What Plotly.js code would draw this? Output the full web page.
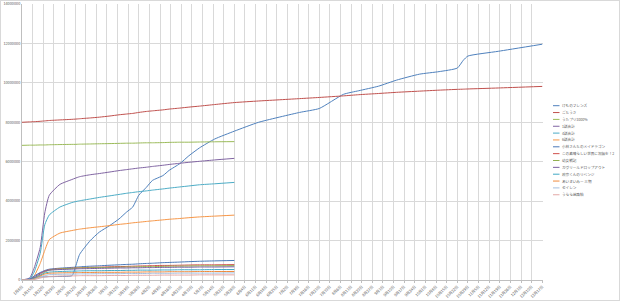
<!DOCTYPE html>
<html>
<head>
<meta charset="utf-8">
<script src="https://cdn.plot.ly/plotly-3.0.1.min.js"></script>
<style>
html,body{margin:0;padding:0;background:#fff;}
#wrap{position:relative;width:620px;height:301px;}
#chart{width:620px;height:301px;}
#frame{position:absolute;left:0;top:0;width:618px;height:299px;border:1px solid #d9d9d9;pointer-events:none;}
</style>
</head>
<body>
<div id="wrap"><div id="chart"></div><div id="frame"></div></div>
<script>
// values in millions of views
const UNIT = 1e6;
const dates = ["2017-01-08","2017-01-13","2017-01-16","2017-01-20","2017-01-23","2017-01-26","2017-02-02","2017-02-10","2017-02-12","2017-02-15","2017-02-22","2017-02-28","2017-03-07","2017-03-13","2017-03-18","2017-03-22","2017-03-26","2017-03-31","2017-04-04","2017-04-11","2017-04-15","2017-04-22","2017-04-28","2017-05-05","2017-05-15","2017-05-28","2017-06-13","2017-07-10","2017-07-23","2017-08-08","2017-08-18","2017-08-31","2017-09-12","2017-09-27","2017-10-10","2017-10-22","2017-10-26","2017-10-29","2017-11-18","2017-12-17"];

const seriesNames = ["けものフレンズ","ごちうさ","うたプリ1000%","1話合計","4話合計","6話合計","小林さんちのメイドラゴン","この素晴らしい世界に祝福を！2","幼女戦記","ガヴリールドロップアウト","政宗くんのリベンジ","あいまいみー 三期","セイレン","うらら迷路帖"];
const seriesColors = ["#4F81BD","#C0504D","#9BBB59","#8064A2","#4BACC6","#F79646","#4A78B8","#D0504C","#92B050","#7A5FA0","#40A8C4","#F08A3C","#A5BFDF","#E3A8A6"];

const kemono   = [0,0.05,0.12,0.15,0.16,0.17,0.18,0.22,0.6,1.3,2.0,2.43,2.77,3.1,3.45,3.7,4.3,4.7,5.05,5.3,5.56,5.9,6.3,6.7,7.15,7.55,8.0,8.5,8.7,9.42,9.6,9.83,10.14,10.44,10.57,10.75,11.15,11.36,11.6,11.96];
const gochiusa = [8.0,8.02,8.03,8.05,8.07,8.09,8.12,8.15,8.16,8.18,8.22,8.26,8.32,8.38,8.42,8.45,8.5,8.55,8.58,8.63,8.67,8.72,8.77,8.82,8.9,9.0,9.08,9.2,9.26,9.34,9.4,9.46,9.52,9.58,9.63,9.67,9.68,9.69,9.74,9.82];
const utapri   = [6.83,6.84,6.84,6.85,6.85,6.86,6.87,6.88,6.88,6.89,6.9,6.91,6.92,6.93,6.94,6.94,6.95,6.96,6.96,6.97,6.98,6.99,6.99,7.0,7.01,7.02];
const ep1Total = [0,0.1,0.6,1.65,3.4,4.3,4.85,5.1,5.16,5.24,5.34,5.4,5.48,5.55,5.6,5.64,5.68,5.72,5.76,5.82,5.86,5.92,5.97,6.02,6.09,6.17];
const ep4Total = [0,0.05,0.4,1.35,2.8,3.3,3.7,3.93,3.97,4.02,4.11,4.19,4.27,4.34,4.4,4.44,4.48,4.52,4.56,4.62,4.66,4.72,4.77,4.83,4.88,4.95];
const ep6Total = [0,0,0.2,0.84,1.5,2.05,2.38,2.51,2.54,2.58,2.65,2.7,2.76,2.82,2.86,2.9,2.93,2.97,3.0,3.05,3.08,3.12,3.16,3.2,3.24,3.29];
const kobayashi = [0,0.05,0.2,0.38,0.48,0.55,0.6,0.64,0.65,0.67,0.7,0.72,0.75,0.77,0.79,0.8,0.82,0.84,0.85,0.88,0.89,0.91,0.93,0.95,0.97,0.99];
const konosuba  = [0,0,0.1,0.3,0.45,0.52,0.57,0.6,0.61,0.62,0.64,0.65,0.67,0.68,0.69,0.7,0.71,0.72,0.73,0.74,0.74,0.75,0.76,0.77,0.77,0.78];
const youjo     = [0,0,0.05,0.2,0.4,0.5,0.56,0.59,0.6,0.61,0.62,0.63,0.64,0.65,0.66,0.66,0.67,0.68,0.68,0.69,0.7,0.7,0.71,0.72,0.72,0.73];
const gabriel   = [0,0.02,0.15,0.35,0.45,0.5,0.53,0.55,0.56,0.57,0.58,0.59,0.6,0.61,0.61,0.62,0.62,0.63,0.63,0.64,0.64,0.65,0.65,0.66,0.66,0.67];
const masamune  = [0,0,0.1,0.25,0.35,0.4,0.43,0.45,0.45,0.46,0.47,0.47,0.48,0.48,0.49,0.49,0.5,0.5,0.5,0.51,0.51,0.52,0.52,0.52,0.53,0.53];
const aimaimi   = [0,0,0.05,0.2,0.3,0.34,0.36,0.37,0.37,0.38,0.38,0.39,0.39,0.39,0.4,0.4,0.4,0.41,0.41,0.41,0.42,0.42,0.42,0.43,0.43,0.43];
const seiren    = [0,0,0.03,0.15,0.22,0.27,0.29,0.3,0.3,0.31,0.31,0.32,0.32,0.32,0.33,0.33,0.33,0.33,0.34,0.34,0.34,0.35,0.35,0.35,0.35,0.36];
const urara     = [0,0,0.02,0.1,0.15,0.18,0.2,0.21,0.21,0.22,0.22,0.22,0.23,0.23,0.23,0.24,0.24,0.24,0.24,0.25,0.25,0.25,0.25,0.26,0.26,0.26];

const seriesValues = [kemono,gochiusa,utapri,ep1Total,ep4Total,ep6Total,kobayashi,konosuba,youjo,gabriel,masamune,aimaimi,seiren,urara];

const traces = seriesValues.map((vals,i)=>({
  type:'scatter', mode:'lines',
  x: dates.slice(0, vals.length),
  y: vals.map(v=>v*UNIT),
  name: seriesNames[i],
  line:{color:seriesColors[i], width:1, shape:'spline', smoothing:0.5},
  showlegend:false,
  hoverinfo:'skip'
}));

// plot area geometry (pixels)
const W=620,H=301, L=22, R=77, T=4, B=21;
const pw=W-L-R, ph=H-T-B;
const px2x = p => (p-L)/pw;
const py2y = p => (H-B-p)/ph;

const annotations=[], shapes=[];
seriesNames.forEach((nm,i)=>{
  const py = 105.7 + i*6.85;
  shapes.push({type:'line', xref:'paper', yref:'paper', x0:px2x(553), x1:px2x(559.5), y0:py2y(py), y1:py2y(py), line:{color:seriesColors[i], width:1}});
  annotations.push({xref:'paper', yref:'paper', x:px2x(560.5), y:py2y(py), xanchor:'left', yanchor:'middle', showarrow:false, text:nm, borderpad:0, font:{size:3.6, color:'#595959', family:'Noto Sans CJK JP, sans-serif'}});
});

const layout = {
  width:W, height:H,
  margin:{l:L, r:R, t:T, b:B, pad:0},
  paper_bgcolor:'#fff', plot_bgcolor:'#fff',
  font:{family:'Noto Sans CJK JP, Liberation Sans, sans-serif', color:'#595959', size:4},
  xaxis:{
    type:'date', range:['2017-01-08','2017-12-17 12:00'],
    tick0:'2017-01-08', dtick:7*86400000, tickformat:'%-m月%-d日',
    tickangle:-45, tickfont:{size:3.8, color:'#595959'},
    showgrid:true, gridcolor:'#d9d9d9', gridwidth:1,
    showline:true, linecolor:'#bfbfbf', linewidth:1,
    ticks:'outside', ticklen:2, tickcolor:'#bfbfbf', zeroline:false
  },
  yaxis:{
    range:[0,14000000], dtick:2000000, tick0:0, tickformat:'d',
    tickfont:{size:3.8, color:'#595959'},
    showgrid:true, gridcolor:'#d9d9d9', gridwidth:1,
    showline:true, linecolor:'#bfbfbf', linewidth:1,
    ticks:'', zeroline:false
  },
  shapes:shapes, annotations:annotations,
  hovermode:false
};

Plotly.newPlot('chart', traces, layout, {staticPlot:true, displayModeBar:false});
</script>
</body>
</html>
